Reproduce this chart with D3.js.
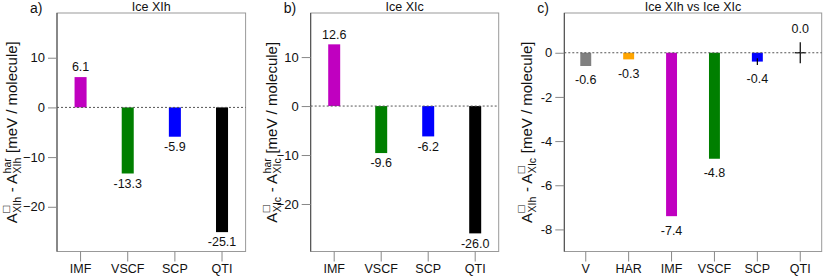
<!DOCTYPE html>
<html>
<head>
<meta charset="utf-8">
<script src="https://cdn.jsdelivr.net/npm/d3@7"></script>
<style>
  body { margin: 0; background: #fff; }
  svg { font-family: "Liberation Sans", Arial, sans-serif; }
  text { white-space: pre; }
</style>
</head>
<body>
<div id="content"></div>
<script>
"use strict";

// data
var catsAB = ["IMF", "VSCF", "SCP", "QTI"];
var valsA = [6.1, -13.3, -5.9, -25.1];
var valsB = [12.6, -9.6, -6.2, -26.0];
var catsC = ["V", "HAR", "IMF", "VSCF", "SCP", "QTI"];
var valsC = [-0.6, -0.3, -7.4, -4.8, -0.4, 0.0];
var errC = [0, 0, 0, 0, 0.15, 0.48];
var ticksAB = [10, 0, -10, -20];
var ticksC = [0, -2, -4, -6, -8];
var colorOf = { V: "#808080", HAR: "#ffa500", IMF: "#c000c0", VSCF: "#007f00", SCP: "#0000ff", QTI: "#000000" };

var width = 830, height = 277;
var svg = d3.select('#content').append('svg')
  .attr('width', width)
  .attr('height', height);

var panels = [
  { tag: "a)", title: "Ice XIh", cats: catsAB, vals: valsA, err: null, ticks: ticksAB,
    x0: 57, x1: 245.6, dom: [-29, 19], off: 10, minus: "\u2212", labX: 17,
    ylab: [["A", 0], ["\u25A1", "XIh"], [" - A", 0], ["har", "XIh"], [" [meV / molecule]", 0]] },
  { tag: "b)", title: "Ice XIc", cats: catsAB, vals: valsB, err: null, ticks: ticksAB,
    x0: 310.7, x1: 498.7, dom: [-29.7, 19], off: 10, minus: "\u2212", labX: 277,
    ylab: [["A", 0], ["\u25A1", "XIc"], [" - A", 0], ["har", "XIc"], [" [meV / molecule]", 0]] },
  { tag: "c)", title: "Ice XIh vs Ice XIc", cats: catsC, vals: valsC, err: errC, ticks: ticksC,
    x0: 564.3, x1: 821.7, dom: [-9, 1.8], off: 14, minus: "-", labX: 532,
    ylab: [["A", 0], ["\u25A1", "XIh"], [" - A", 0], ["\u25A1", "XIc"], [" [meV / molecule]", 0]] }
];

var plotTop = 13, plotBottom = 251.5;

panels.forEach(function(p) {
  var g = svg.append('g');
  var y = d3.scaleLinear().domain(p.dom).range([plotBottom, plotTop]);
  var x = d3.scaleBand().domain(p.cats).range([p.x0, p.x1]);
  var bw = x.bandwidth() * 0.255;
  var cx = function(d) { return x(d) + x.bandwidth() / 2; };

  // frame
  g.append('rect')
    .attr('x', p.x0).attr('y', plotTop)
    .attr('width', p.x1 - p.x0).attr('height', plotBottom - plotTop)
    .attr('fill', 'none').attr('stroke', '#999').attr('stroke-width', 1);

  // y axis
  var yAxis = d3.axisLeft(y).tickValues(p.ticks).tickSize(9).tickPadding(3)
    .tickFormat(function(d) { return d < 0 ? p.minus + Math.abs(d) : String(d); });
  var ya = g.append('g').attr('transform', 'translate(' + p.x0 + ',0)').call(yAxis);
  ya.select('.domain').attr('stroke', '#444').attr('d', 'M0,' + plotTop + 'V' + plotBottom);
  ya.selectAll('.tick line').attr('stroke', '#888');
  ya.selectAll('.tick text').attr('fill', '#111').style('font-size', '13px')
    .style('font-family', '"Liberation Sans", Arial, sans-serif');

  // x axis
  var xAxis = d3.axisBottom(x).tickSize(10).tickPadding(3).tickSizeOuter(0);
  var xa = g.append('g').attr('transform', 'translate(0,' + plotBottom + ')').call(xAxis);
  xa.select('.domain').remove();
  xa.selectAll('.tick line').attr('stroke', '#888');
  xa.selectAll('.tick text').attr('fill', '#111').style('font-size', '12.5px')
    .style('font-family', '"Liberation Sans", Arial, sans-serif');

  var data = p.cats.map(function(c, i) {
    return { cat: c, v: p.vals[i], e: p.err ? p.err[i] : 0 };
  });

  // bars (a zero value still shows as a thin line)
  g.selectAll('rect.bar').data(data).enter().append('rect')
    .attr('class', 'bar')
    .attr('x', function(d) { return cx(d.cat) - bw / 2; })
    .attr('y', function(d) { return d.v === 0 ? y(0) - 0.6 : y(Math.max(0, d.v)); })
    .attr('width', bw)
    .attr('height', function(d) { return Math.max(1.2, Math.abs(y(d.v) - y(0))); })
    .attr('fill', function(d) { return colorOf[d.cat]; });

  // error bars
  g.selectAll('line.err').data(data.filter(function(d) { return d.e > 0; })).enter().append('line')
    .attr('class', 'err')
    .attr('x1', function(d) { return cx(d.cat); })
    .attr('x2', function(d) { return cx(d.cat); })
    .attr('y1', function(d) { return y(d.v - d.e); })
    .attr('y2', function(d) { return y(d.v + d.e); })
    .attr('stroke', '#000').attr('stroke-width', 1.2);

  // zero line
  g.append('line')
    .attr('x1', p.x0).attr('x2', p.x1)
    .attr('y1', y(0)).attr('y2', y(0))
    .attr('stroke', '#555').attr('stroke-width', 1)
    .attr('stroke-dasharray', '2,2');

  // value labels
  g.selectAll('text.val').data(data).enter().append('text')
    .attr('class', 'val')
    .attr('x', function(d) { return cx(d.cat); })
    .attr('y', function(d) {
      return d.v >= 0 ? y(d.v + d.e) - p.off : y(d.v - d.e) + p.off;
    })
    .attr('dy', '0.35em')
    .attr('text-anchor', 'middle')
    .style('font-size', '12.5px')
    .attr('fill', '#111')
    .text(function(d) { return d.v.toFixed(1); });

  // title and panel tag
  g.append('text')
    .attr('x', (p.x0 + p.x1) / 2).attr('y', 10.5)
    .attr('text-anchor', 'middle')
    .style('font-size', '12.5px')
    .attr('fill', '#111')
    .text(p.title);
  g.append('text')
    .attr('x', p.x0 - 27).attr('y', 12.5)
    .style('font-size', '14px')
    .attr('fill', '#111')
    .text(p.tag);

  // rotated y label with stacked sub/superscripts
  var lg = g.append('g')
    .attr('transform', 'translate(' + p.labX + ',' + ((plotTop + plotBottom) / 2) + ') rotate(-90)');
  var cur = 0;
  p.ylab.forEach(function(seg) {
    if (seg[1] === 0) {
      var t = lg.append('text').attr('x', cur).attr('y', 0)
        .style('font-size', '15px').attr('fill', '#111').text(seg[0]);
      cur += t.node().getComputedTextLength();
    } else {
      var box = seg[0] === "\u25A1";
      var sup = lg.append('text').attr('x', cur + 0.5).attr('y', box ? -7.5 : -6.5)
        .style('font-size', box ? '12px' : '10.5px').attr('fill', '#111').text(seg[0]);
      var sub = lg.append('text').attr('x', cur + 0.5).attr('y', 3.5)
        .style('font-size', '10.5px').attr('fill', '#111').text(seg[1]);
      cur += Math.max(sup.node().getComputedTextLength(), sub.node().getComputedTextLength()) + 1;
    }
  });
  lg.selectAll('text').attr('x', function() { return +d3.select(this).attr('x') - cur / 2; });
});
</script>
</body>
</html>
